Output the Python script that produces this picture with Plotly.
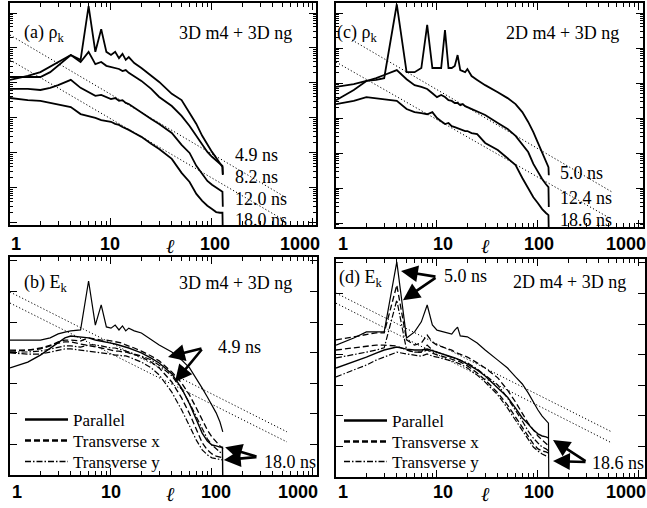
import numpy as np
import plotly.graph_objects as go

W, H = 647, 508

# ---------------- data (spectra given as log10 values) ----------------
# panel (a): rho_k, 3D m4 + 3D ng
ell_a = [1, 1.5, 2, 2.5, 3, 3.5, 4, 5, 6, 7, 8, 9, 10, 11, 12, 13, 14, 15, 17, 20, 25, 30,
         40, 50, 60, 70, 80, 90, 100, 110, 120, 127, 128]
rho_a_4p9 = [-1.83, -1.83, -1.83, -1.69, -1.51, -1.34, -1.20, -1.34, 0.20, -1.11, -0.46, -1.11, -1.20,
             -1.11, -1.29, -1.17, -1.34, -1.26, -1.43, -1.57, -1.80, -1.97, -2.31, -2.49, -2.86, -3.17,
             -3.51, -3.77, -3.97, -4.14, -4.29, -4.40, -4.63]
rho_a_8p2 = [-1.91, -1.80, -1.69, -1.54, -1.40, -1.29, -1.20, -1.40, -1.11, -1.46, -1.40, -1.51, -1.54,
             -1.57, -1.60, -1.66, -1.63, -1.71, -1.80, -1.94, -2.17, -2.40, -2.66, -2.94, -3.23, -3.51,
             -3.77, -3.97, -4.11, -4.23, -4.31, -4.37, -4.60]
rho_a_12p0 = [-2.17, -2.17, -2.20, -2.14, -2.06, -1.97, -1.91, -2.14, -2.26, -2.37, -2.34, -2.40, -2.46,
              -2.43, -2.51, -2.49, -2.57, -2.60, -2.71, -2.83, -3.03, -3.17, -3.43, -3.77, -4.00, -4.37,
              -4.60, -4.80, -4.91, -5.00, -5.06, -5.11, -5.54]
rho_a_18p0 = [-2.43, -2.49, -2.51, -2.57, -2.60, -2.66, -2.69, -2.89, -2.94, -3.00, -3.06, -3.09, -3.11,
              -3.17, -3.20, -3.26, -3.29, -3.34, -3.43, -3.54, -3.74, -3.89, -4.17, -4.57, -4.83, -5.17,
              -5.37, -5.51, -5.60, -5.69, -5.71, -5.71, -6.30]

# panel (c): rho_k, 2D m4 + 3D ng
ell_c = [1, 1.5, 2, 2.5, 3, 4, 5, 6, 7, 8, 9, 10, 11, 12, 13, 14, 15, 16, 17, 18, 19, 20, 22, 25,
         30, 40, 50, 60, 70, 80, 90, 100, 110, 120, 127, 128]
rho_c_5p0 = [-2.11, -2.03, -1.94, -1.91, -1.86, 0.25, -1.69, -1.69, -1.57, -0.34, -1.57, -1.57, -1.57,
             -0.49, -1.57, -1.57, -1.51, -1.20, -1.63, -1.66, -1.69, -1.60, -1.80, -1.91, -2.06, -2.26,
             -2.43, -2.60, -2.83, -3.11, -3.40, -3.71, -3.97, -4.20, -4.40, -4.63]
rho_c_12p4 = [-2.49, -2.20, -1.94, -1.86, -1.77, -1.63, -1.89, -2.06, -2.11, -2.17, -2.29, -2.40, -2.34,
              -2.40, -2.49, -2.51, -2.57, -2.57, -2.63, -2.60, -2.66, -2.69, -2.74, -2.80, -2.91, -3.14,
              -3.31, -3.51, -3.77, -3.97, -4.31, -4.54, -4.74, -4.89, -4.97, -5.54]
rho_c_18p6 = [-2.60, -2.51, -2.40, -2.43, -2.46, -2.51, -2.74, -2.83, -2.86, -2.89, -2.83, -3.00, -3.09,
              -3.17, -3.14, -3.23, -3.26, -3.29, -3.31, -3.34, -3.37, -3.37, -3.43, -3.46, -3.71, -3.91,
              -4.14, -4.34, -4.71, -5.00, -5.26, -5.43, -5.60, -5.71, -5.77, -6.30]

# panel (b): E_k, 3D m4 + 3D ng
ell_b = [1, 1.5, 2, 2.5, 3, 3.5, 4, 5, 6, 7, 8, 9, 10, 11, 12, 13, 14, 15, 17, 20, 25, 30,
         40, 50, 60, 70, 80, 90, 100, 110, 120, 127, 128]
E_b_4p9_par = [-2.59, -2.59, -2.59, -2.52, -2.39, -2.33, -2.29, -2.26, -0.66, -2.10, -1.44, -2.16, -2.20,
               -2.10, -2.26, -2.13, -2.29, -2.20, -2.29, -2.36, -2.59, -2.75, -2.98, -3.24, -3.50, -3.83,
               -4.16, -4.45, -4.71, -4.97, -5.27, -5.53, -5.59]
E_b_4p9_tx = [-2.92, -2.92, -2.88, -2.78, -2.65, -2.59, -2.59, -2.62, -2.52, -2.56, -2.59, -2.59, -2.62,
              -2.65, -2.69, -2.69, -2.75, -2.78, -2.85, -2.95, -3.11, -3.27, -3.63, -3.99, -4.39, -4.81,
              -5.20, -5.53, -5.76, -5.92, -6.05, -6.12, -6.15]
E_b_4p9_ty = [-2.98, -2.98, -2.95, -2.88, -2.82, -2.78, -2.78, -2.82, -2.75, -2.75, -2.78, -2.82, -2.85,
              -2.85, -2.88, -2.92, -2.95, -2.98, -3.05, -3.11, -3.24, -3.41, -3.76, -4.19, -4.65, -5.10,
              -5.53, -5.82, -6.02, -6.15, -6.25, -6.31, -6.31]
E_b_18p0_par = [-3.50, -3.31, -3.08, -2.85, -2.65, -2.52, -2.46, -2.49, -2.52, -2.59, -2.62, -2.65, -2.69,
                -2.72, -2.75, -2.78, -2.82, -2.85, -2.92, -3.01, -3.18, -3.34, -3.69, -4.16, -4.68, -5.20,
                -5.63, -5.89, -6.02, -6.05, -6.09, -6.09, -7.30]
E_b_18p0_tx = [-2.95, -2.92, -2.85, -2.75, -2.69, -2.65, -2.65, -2.72, -2.78, -2.82, -2.85, -2.88, -2.92,
               -2.95, -2.95, -2.98, -2.98, -3.01, -3.08, -3.14, -3.31, -3.50, -3.96, -4.48, -5.00, -5.53,
               -5.95, -6.18, -6.31, -6.38, -6.41, -6.44, -6.44]
E_b_18p0_ty = [-3.01, -3.05, -3.05, -2.98, -2.92, -2.88, -2.88, -2.92, -2.95, -2.98, -3.01, -3.01, -3.05,
               -3.08, -3.08, -3.11, -3.11, -3.14, -3.21, -3.31, -3.50, -3.73, -4.29, -4.87, -5.40, -5.86,
               -6.18, -6.34, -6.44, -6.47, -6.51, -6.51, -6.51]

# panel (d): E_k, 2D m4 + 3D ng
ell_d = [1, 1.5, 2, 2.5, 3, 4, 5, 6, 7, 8, 9, 10, 12, 14, 15, 16, 17, 20, 25, 30, 40, 50, 60, 70,
         80, 90, 100, 110, 120, 127, 128]
E_d_5p0_par = [-2.69, -2.46, -2.26, -2.26, -2.26, 0.03, -2.46, -2.26, -1.93, -1.38, -2.03, -2.20, -2.26,
               -2.33, -2.20, -2.10, -2.39, -2.42, -2.62, -2.85, -3.18, -3.44, -3.73, -3.96, -4.25, -4.55,
               -4.81, -5.01, -5.14, -5.24, -7.30]
E_d_5p0_tx = [-2.52, -2.42, -2.36, -2.29, -2.29, -0.73, -2.52, -2.69, -2.62, -2.36, -2.59, -2.69, -2.78,
              -2.85, -2.92, -2.95, -2.98, -3.08, -3.27, -3.44, -3.76, -4.16, -4.55, -4.91, -5.24, -5.46,
              -5.66, -5.79, -5.89, -5.95, -5.99]
E_d_5p0_ty = [-3.11, -3.01, -2.92, -2.85, -2.78, -1.22, -2.85, -2.92, -2.92, -2.69, -2.85, -2.92, -3.01,
              -3.08, -3.11, -3.14, -3.18, -3.27, -3.47, -3.67, -3.99, -4.42, -4.81, -5.17, -5.50, -5.73,
              -5.89, -6.02, -6.08, -6.12, -6.15]
E_d_18p6_par = [-3.44, -3.24, -3.08, -2.95, -2.85, -2.75, -2.82, -2.85, -2.85, -2.82, -2.88, -2.92, -3.01,
                -3.08, -3.11, -3.14, -3.18, -3.31, -3.50, -3.70, -4.09, -4.39, -4.75, -5.07, -5.27, -5.46,
                -5.59, -5.66, -5.69, -5.73, -5.73]
E_d_18p6_tx = [-2.85, -2.78, -2.72, -2.69, -2.69, -2.72, -2.85, -2.92, -2.92, -2.85, -2.95, -3.01, -3.08,
               -3.14, -3.18, -3.21, -3.24, -3.37, -3.60, -3.83, -4.25, -4.65, -5.04, -5.40, -5.69, -5.92,
               -6.08, -6.15, -6.18, -6.22, -6.22]
E_d_18p6_ty = [-3.73, -3.50, -3.34, -3.18, -3.08, -2.92, -2.98, -3.01, -3.05, -2.98, -3.05, -3.08, -3.14,
               -3.21, -3.24, -3.27, -3.31, -3.44, -3.67, -3.90, -4.32, -4.75, -5.14, -5.50, -5.79, -6.02,
               -6.15, -6.25, -6.31, -6.35, -6.35]

# dotted power-law guide lines: (ell_start, ell_end), (log10 start, log10 end)
guide_a = [([1, 530], [-0.63, -5.26]), ([1, 530], [-1.34, -5.94])]
guide_c = [([1.44, 541], [-0.77, -5.11]), ([1, 516], [-1.40, -5.86])]
guide_b = [([1, 553], [-1.02, -5.59]), ([1, 553], [-1.38, -5.92])]
guide_d = [([1, 541], [-0.99, -5.53]), ([1, 541], [-1.32, -5.89])]

tick_text = ["1", "10", "100", "1000"]
legend_names = ["Parallel", "Transverse x", "Transverse y"]

# ---------------- helpers ----------------
def px(x):
    return x / W


def py(y):
    return 1 - y / H


SERIF = "Liberation Serif"
SANS = "Liberation Sans"
BLACK = "black"
DASH_TX = "6px,3px"
DASH_TY = "6px,2px,1.5px,2px"
DOT = "1.2px,2.2px"

fig = go.Figure()


def curve(xs, logs, ax, dash="solid", width=1.6):
    fig.add_trace(go.Scatter(
        x=xs, y=[10 ** v for v in logs], mode="lines",
        line=dict(color=BLACK, width=width, dash=dash),
        xaxis="x" + ax, yaxis="y" + ax, showlegend=False, hoverinfo="skip"))


def guides(lst, ax):
    for ells, logs in lst:
        curve(ells, logs, ax, dash=DOT, width=1.0)


# panel (a) -> axes '' ; (b) -> '2' ; (c) -> '3' ; (d) -> '4'
for s in (rho_a_4p9, rho_a_8p2, rho_a_12p0, rho_a_18p0):
    curve(ell_a, s, "", width=1.8)
guides(guide_a, "")

for s in (rho_c_5p0, rho_c_12p4, rho_c_18p6):
    curve(ell_c, s, "3", width=1.8)
guides(guide_c, "3")

curve(ell_b, E_b_4p9_par, "2", width=1.2)
curve(ell_b, E_b_4p9_tx, "2", dash=DASH_TX, width=1.3)
curve(ell_b, E_b_4p9_ty, "2", dash=DASH_TY, width=1.2)
curve(ell_b, E_b_18p0_par, "2", width=1.4)
curve(ell_b, E_b_18p0_tx, "2", dash=DASH_TX, width=1.3)
curve(ell_b, E_b_18p0_ty, "2", dash=DASH_TY, width=1.2)
guides(guide_b, "2")

curve(ell_d, E_d_5p0_par, "4", width=1.2)
curve(ell_d, E_d_5p0_tx, "4", dash=DASH_TX, width=1.3)
curve(ell_d, E_d_5p0_ty, "4", dash=DASH_TY, width=1.2)
curve(ell_d, E_d_18p6_par, "4", width=1.4)
curve(ell_d, E_d_18p6_tx, "4", dash=DASH_TX, width=1.3)
curve(ell_d, E_d_18p6_ty, "4", dash=DASH_TY, width=1.2)
guides(guide_d, "4")

# legend entries of (b) and (d): one small legend per row so the rows sit where the reference has them
leg_styles = [("solid", 2.6), (DASH_TX, 2.4), (DASH_TY, 1.4)]
leg_rows_b = [420, 441, 462]
leg_rows_d = [421, 442, 462]
legend_layout = {}
k = 1
for ax, x0, rows in (("2", 20, leg_rows_b), ("4", 339, leg_rows_d)):
    for name, (dash, wdt), row in zip(legend_names, leg_styles, rows):
        lg = "legend" if k == 1 else "legend%d" % k
        fig.add_trace(go.Scatter(
            x=[None], y=[None], mode="lines", name=name,
            line=dict(color=BLACK, width=wdt, dash=dash),
            xaxis="x" + ax, yaxis="y" + ax, legend=lg, showlegend=True))
        legend_layout[lg] = dict(x=px(x0), y=py(row), xanchor="left", yanchor="middle",
                                 bgcolor="rgba(0,0,0,0)", borderwidth=0, itemwidth=43,
                                 font=dict(family=SERIF, size=17, color=BLACK))
        k += 1

# ---------------- axes ----------------
def xaxis(dom_px, rng, anchor):
    return dict(type="log", domain=[px(dom_px[0]), px(dom_px[1])], range=rng, anchor=anchor,
                showline=True, mirror="ticks", linecolor=BLACK, linewidth=1.5,
                ticks="inside", ticklen=7, tickwidth=1.2, tickcolor=BLACK, dtick=1,
                showticklabels=False, showgrid=False, zeroline=False, automargin=False,
                minor=dict(ticks="inside", ticklen=4, tickwidth=1, tickcolor=BLACK,
                           dtick="D1", showgrid=False))


def yaxis(dom_py, rng, anchor, minor=True):
    d = dict(type="log", domain=[py(dom_py[1]), py(dom_py[0])], range=rng, anchor=anchor,
             showline=True, mirror="ticks", linecolor=BLACK, linewidth=1.5,
             ticks="inside", ticklen=7, tickwidth=1.2, tickcolor=BLACK, dtick=1,
             showticklabels=False, showgrid=False, zeroline=False, automargin=False)
    if minor:
        d["minor"] = dict(ticks="inside", ticklen=3, tickwidth=1, tickcolor=BLACK,
                          dtick="D1", showgrid=False)
    return d


fig.update_layout(
    xaxis=xaxis((10, 316), [0, 3.03], "y"),
    yaxis=yaxis((3, 225), [-6.06, 0.286], "x"),
    xaxis2=xaxis((10, 317), [0, 3.04], "y2"),
    yaxis2=yaxis((257, 475), [-7.0, 0.124], "x2", minor=False),
    xaxis3=xaxis((336, 643), [0, 3.04], "y3"),
    yaxis3=yaxis((3, 227), [-6.11, 0.286], "x3"),
    xaxis4=xaxis((336, 645), [0, 3.06], "y4"),
    yaxis4=yaxis((259, 477), [-7.0, 0.124], "x4", minor=False),
)

# ---------------- text ----------------
ann = []


def text(t, x, y, size=18, anchor="center", family=SERIF, weight="normal"):
    ann.append(dict(text=t, x=px(x), y=py(y), xref="paper", yref="paper", showarrow=False,
                    xanchor=anchor, yanchor="middle",
                    font=dict(family=family, size=size, color=BLACK, weight=weight)))


# tick labels and the ell axis symbol
for xs, ycen, ellx in (((16, 110, 215, 300), 244, 170), ((17, 111, 216, 298), 492, 170),
                       ((343, 443, 539, 626), 244, 485), ((343, 443, 539, 626), 492, 485)):
    for t, x in zip(tick_text, xs):
        text(t, x, ycen, size=18, family=SANS, weight="bold")
    text("<i>ℓ</i>", ellx, ycen + 2, size=20)

# panel labels
text("(a) ρ<sub>k</sub>", 22, 33, anchor="left")
text("3D m4 + 3D ng", 235, 33)
text("(c) ρ<sub>k</sub>", 335, 33, anchor="left")
text("2D m4 + 3D ng", 562, 33)
text("(b) E<sub>k</sub>", 22, 283, anchor="left")
text("3D m4 + 3D ng", 235, 283)
text("(d) E<sub>k</sub>", 337, 278, anchor="left")
text("2D m4 + 3D ng", 569, 282)

# time labels
for t, y in (("4.9 ns", 155), ("8.2 ns", 177), ("12.0 ns", 199), ("18.0 ns", 220)):
    text(t, 233, y, anchor="left")
for t, y in (("5.0 ns", 173), ("12.4 ns", 198), ("18.6 ns", 220)):
    text(t, 558, y, anchor="left")
text("4.9 ns", 216, 347, anchor="left")
text("18.0 ns", 262, 462, anchor="left")
text("5.0 ns", 442, 276, anchor="left")
text("18.6 ns", 590, 463, anchor="left")


# arrows (data coordinates: log10 of ell and of the spectrum)
def arrow(ax, tail, head):
    ann.append(dict(text="", showarrow=True, xref="x" + ax, yref="y" + ax,
                    axref="x" + ax, ayref="y" + ax,
                    x=float(np.log10(head[0])), y=head[1],
                    ax=float(np.log10(tail[0])), ay=tail[1],
                    arrowhead=2, arrowsize=1.3, arrowwidth=2.6, arrowcolor=BLACK))


arrow("2", (81.5, -2.85), (36.7, -3.14))
arrow("2", (81.5, -2.85), (43, -3.96))
arrow("2", (285, -6.41), (135, -6.09))
arrow("2", (285, -6.41), (131, -6.51))
arrow("4", (10, -0.46), (4.4, -0.27))
arrow("4", (10, -0.46), (4.6, -1.22))
arrow("4", (306, -6.51), (141, -5.79))
arrow("4", (306, -6.51), (141, -6.48))

fig.update_layout(
    width=W, height=H, margin=dict(l=0, r=0, t=0, b=0),
    paper_bgcolor="white", plot_bgcolor="white",
    font=dict(family=SERIF, color=BLACK),
    annotations=ann,
    showlegend=True,
    **legend_layout,
)

fig.write_html("out.html")
